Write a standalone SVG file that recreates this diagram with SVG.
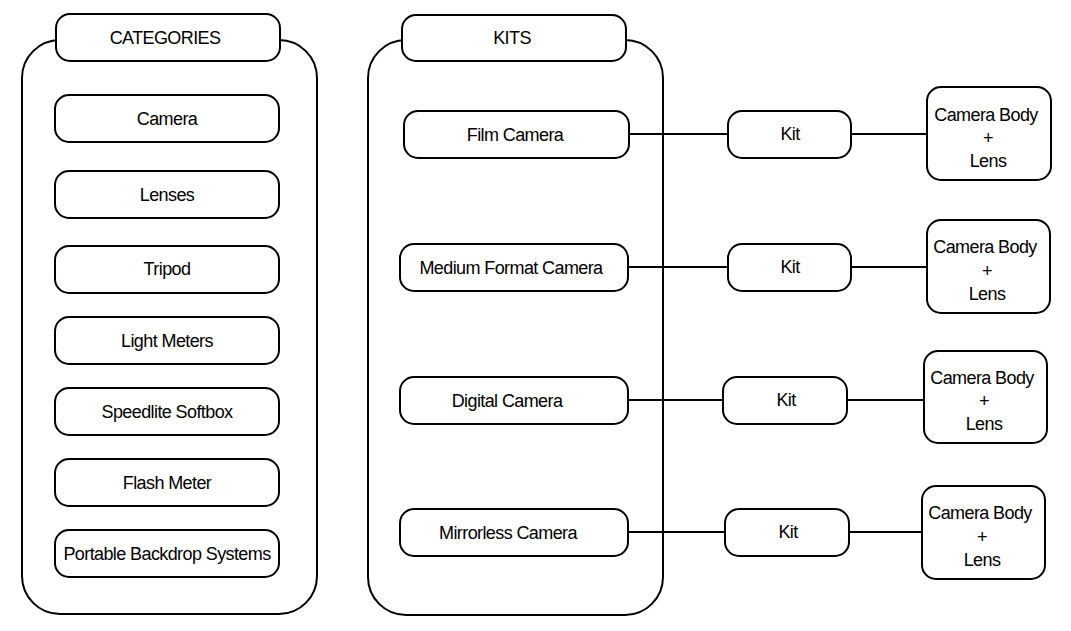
<svg xmlns="http://www.w3.org/2000/svg" width="1071" height="631" viewBox="0 0 1071 631">
  <style>
    .box { fill: #ffffff; stroke: #000000; stroke-width: 2; }
    .wire { fill: none; stroke: #000000; stroke-width: 2; }
    text { font-family: "Liberation Sans", Arial, sans-serif; font-size: 18px; letter-spacing: -0.6px; fill: #000000; text-anchor: middle; dominant-baseline: central; }
  </style>

  <!-- Categories container -->
  <g id="categories">
    <rect class="box" x="22" y="40" width="295" height="574" rx="38" ry="38"/>
    <rect class="box" x="56" y="14" width="224" height="47" rx="14" ry="14"/>
    <text x="165" y="38">CATEGORIES</text>
  </g>

  <g id="cat-camera"><rect class="box" x="55" y="95" width="224" height="47" rx="14"/><text x="167" y="119">Camera</text></g>
  <g id="cat-lenses"><rect class="box" x="55" y="171" width="224" height="47" rx="14"/><text x="167" y="195">Lenses</text></g>
  <g id="cat-tripod"><rect class="box" x="55" y="246" width="224" height="47" rx="14"/><text x="167" y="269">Tripod</text></g>
  <g id="cat-light-meters"><rect class="box" x="55" y="317" width="224" height="47" rx="14"/><text x="167" y="341">Light Meters</text></g>
  <g id="cat-speedlite"><rect class="box" x="55" y="388" width="224" height="47" rx="14"/><text x="167" y="412">Speedlite Softbox</text></g>
  <g id="cat-flash-meter"><rect class="box" x="55" y="459" width="224" height="47" rx="14"/><text x="167" y="483">Flash Meter</text></g>
  <g id="cat-backdrop"><rect class="box" x="55" y="530" width="224" height="47" rx="14"/><text x="167" y="554">Portable Backdrop Systems</text></g>

  <!-- Kits container -->
  <g id="kits">
    <rect class="box" x="368" y="40" width="295" height="575" rx="38" ry="38"/>
    <rect class="box" x="402" y="15" width="224" height="46" rx="14" ry="14"/>
    <text x="512" y="38">KITS</text>
  </g>

  <!-- Connectors -->
  <g id="connectors">
    <line class="wire" x1="629" y1="134" x2="728" y2="134"/>
    <line class="wire" x1="851" y1="134" x2="927" y2="134"/>
    <line class="wire" x1="628" y1="267" x2="728" y2="267"/>
    <line class="wire" x1="851" y1="267" x2="927" y2="267"/>
    <line class="wire" x1="628" y1="400" x2="723" y2="400"/>
    <line class="wire" x1="847" y1="400" x2="924" y2="400"/>
    <line class="wire" x1="628" y1="532" x2="725" y2="532"/>
    <line class="wire" x1="849" y1="532" x2="922" y2="532"/>
  </g>

  <g id="film-camera"><rect class="box" x="404" y="111" width="225" height="47" rx="14"/><text x="515" y="135">Film Camera</text></g>
  <g id="medium-format"><rect class="box" x="400" y="244" width="228" height="47" rx="14"/><text x="511" y="268">Medium Format Camera</text></g>
  <g id="digital-camera"><rect class="box" x="400" y="377" width="228" height="47" rx="14"/><text x="507" y="401">Digital Camera</text></g>
  <g id="mirrorless-camera"><rect class="box" x="400" y="509" width="228" height="47" rx="14"/><text x="508" y="533">Mirrorless Camera</text></g>

  <g id="kit-1"><rect class="box" x="728" y="111" width="123" height="47" rx="14"/><text x="790" y="134">Kit</text></g>
  <g id="kit-2"><rect class="box" x="728" y="244" width="123" height="47" rx="14"/><text x="790" y="267">Kit</text></g>
  <g id="kit-3"><rect class="box" x="723" y="377" width="124" height="47" rx="14"/><text x="786" y="400">Kit</text></g>
  <g id="kit-4"><rect class="box" x="725" y="509" width="124" height="47" rx="14"/><text x="788" y="532">Kit</text></g>

  <g id="body-lens-1"><rect class="box" x="927" y="87" width="124" height="93" rx="14"/>
    <text x="986" y="115">Camera Body</text><text x="988" y="138">+</text><text x="988" y="161">Lens</text></g>
  <g id="body-lens-2"><rect class="box" x="927" y="220" width="123" height="93" rx="14"/>
    <text x="985" y="247">Camera Body</text><text x="987" y="271">+</text><text x="987" y="294">Lens</text></g>
  <g id="body-lens-3"><rect class="box" x="924" y="351" width="123" height="92" rx="14"/>
    <text x="982" y="378">Camera Body</text><text x="984" y="401">+</text><text x="984" y="424">Lens</text></g>
  <g id="body-lens-4"><rect class="box" x="922" y="486" width="123" height="93" rx="14"/>
    <text x="980" y="513">Camera Body</text><text x="982" y="537">+</text><text x="982" y="560">Lens</text></g>
</svg>
